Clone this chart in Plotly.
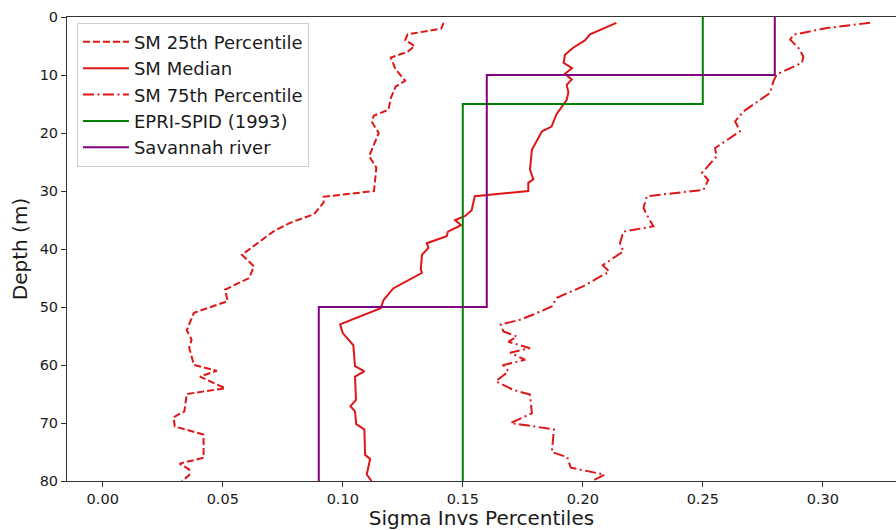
import plotly.graph_objects as go

# ---------------- data ----------------
p25_depth = [1, 2, 3, 4, 5, 6, 7, 9, 11, 12, 14, 16, 17, 18, 20, 22, 24, 26, 30, 31, 32, 34,
             35.5, 37, 41, 43, 45, 47, 49, 51, 54, 55.6, 57, 60, 61, 62, 64, 65, 68, 69,
             70.6, 72, 76, 77, 78, 79, 80]
p25_sigma = [0.142, 0.141, 0.127, 0.126, 0.130, 0.127, 0.120, 0.122, 0.126, 0.122, 0.120,
             0.119, 0.113, 0.112, 0.115, 0.113, 0.111, 0.114, 0.113, 0.092, 0.092, 0.088,
             0.078, 0.071, 0.058, 0.063, 0.061, 0.051, 0.052, 0.038, 0.035, 0.037, 0.036,
             0.038, 0.0475, 0.0405, 0.051, 0.035, 0.034, 0.0295, 0.030, 0.042, 0.042,
             0.032, 0.036, 0.036, 0.033]

med_depth = [1, 2, 3, 4, 5.3, 6.5, 7.9, 8.8, 9.8, 10.8, 11.7, 13, 14.3, 16.8, 18.9, 19.7,
             22.9, 26.3, 28, 28.6, 30, 30.9, 33.3, 34.3, 35, 35.9, 37, 37.8, 39, 39.8, 41,
             43.5, 44.1, 46.8, 48.8, 50.2, 53, 54.5, 56.6, 60.2, 61.1, 62, 66, 67.1, 68,
             70.2, 71.1, 75.5, 76.2, 78.9, 80]
med_sigma = [0.214, 0.2086, 0.203, 0.201, 0.196, 0.1926, 0.192, 0.1955, 0.1926, 0.1954,
             0.1933, 0.194, 0.1933, 0.189, 0.187, 0.183, 0.1788, 0.178, 0.1794, 0.1773,
             0.1773, 0.155, 0.1537, 0.151, 0.1468, 0.1493, 0.1438, 0.1433, 0.135, 0.1357,
             0.133, 0.1325, 0.133, 0.121, 0.117, 0.1158, 0.0989, 0.100, 0.1044, 0.1051,
             0.109, 0.1051, 0.1055, 0.1032, 0.1051, 0.1056, 0.109, 0.1093, 0.1114, 0.110,
             0.112]

p75_depth = [1, 1.9, 3.05, 3.9, 5.3, 6.8, 7.9, 9.9, 11.1, 13.1, 16.3, 18, 19.7, 22.6, 24,
             26.9, 28.1, 29.8, 30.9, 32.9, 34.1, 36.1, 37, 39, 40.4, 42.8, 43.9, 45.3,
             46.4, 48.4, 49.9, 51.3, 52.2, 53, 54.2, 55.1, 56, 57.1, 57.9, 59.1, 60,
             61.1, 62.8, 64.3, 65.1, 68.3, 70, 71.1, 75, 75.9, 77.7, 78.9, 80]
p75_sigma = [0.3197, 0.3017, 0.2878, 0.2864, 0.2898, 0.2919, 0.2913, 0.2808, 0.2794, 0.278,
             0.2669, 0.2635, 0.2655, 0.2551, 0.2558, 0.2496, 0.2523, 0.2503, 0.2267,
             0.2253, 0.2267, 0.2294, 0.2169, 0.2155, 0.2169, 0.2083, 0.2110, 0.2051,
             0.2003, 0.1892, 0.1871, 0.1794, 0.1739, 0.1658, 0.1669, 0.1725, 0.1690,
             0.1780, 0.1697, 0.1760, 0.1669, 0.1690, 0.1638, 0.1711, 0.1780, 0.1788,
             0.1700, 0.1880, 0.1871, 0.1935, 0.1950, 0.2090, 0.2040]

epri_values = [0.25, 0.15]
epri_breaks = [0, 15, 80]
sav_values = [0.28, 0.16, 0.09]
sav_breaks = [0, 10, 50, 80]

x_ticks = [0.00, 0.05, 0.10, 0.15, 0.20, 0.25, 0.30]
y_ticks = [0, 10, 20, 30, 40, 50, 60, 70, 80]


def step_profile(values, breaks):
    xs, ys = [], []
    for i, v in enumerate(values):
        xs += [v, v]
        ys += [breaks[i], breaks[i + 1]]
    return xs, ys


epri_x, epri_y = step_profile(epri_values, epri_breaks)
sav_x, sav_y = step_profile(sav_values, sav_breaks)

RED = "#e01515"
FONT = "DejaVu Sans"
TXT = "#1a1a1a"

fig = go.Figure()
fig.add_trace(go.Scatter(x=p25_sigma, y=p25_depth, mode="lines", name="SM 25th Percentile",
                         line=dict(color=RED, width=2, dash="7px,3px")))
fig.add_trace(go.Scatter(x=med_sigma, y=med_depth, mode="lines", name="SM Median",
                         line=dict(color=RED, width=2)))
fig.add_trace(go.Scatter(x=p75_sigma, y=p75_depth, mode="lines", name="SM 75th Percentile",
                         line=dict(color=RED, width=2, dash="11px,3.5px,2px,3.5px")))
fig.add_trace(go.Scatter(x=epri_x, y=epri_y, mode="lines", name="EPRI-SPID (1993)",
                         line=dict(color="green", width=2)))
fig.add_trace(go.Scatter(x=sav_x, y=sav_y, mode="lines", name="Savannah river",
                         line=dict(color="purple", width=2)))

fig.update_layout(
    width=896, height=530,
    margin=dict(l=67, r=0, t=17, b=49),
    paper_bgcolor="white", plot_bgcolor="white",
    font=dict(family=FONT, color=TXT),
    showlegend=True,
    legend=dict(x=0.012, y=0.988, xanchor="left", yanchor="top",
                bgcolor="rgba(255,255,255,0.85)", bordercolor="#cccccc", borderwidth=1,
                font=dict(size=18, family=FONT, color=TXT),
                itemwidth=46, tracegroupgap=0),
    xaxis=dict(range=[-0.0149, 0.3305], tickvals=x_ticks, tickformat=".2f",
               showgrid=False, zeroline=False, showline=True, linecolor="#333333",
               linewidth=1, mirror=True, ticks="outside", ticklen=5, tickcolor="#333333",
               tickfont=dict(size=14.5, family=FONT, color=TXT),
               title=dict(text="Sigma Invs Percentiles", standoff=10,
                          font=dict(size=20, family=FONT, color=TXT))),
    yaxis=dict(range=[80, 0], tickvals=y_ticks, showgrid=False, zeroline=False,
               showline=True, linecolor="#333333", linewidth=1, mirror=False,
               ticks="outside", ticklen=5, tickcolor="#333333",
               tickfont=dict(size=14.5, family=FONT, color=TXT),
               title=dict(text="Depth (m)", standoff=6,
                          font=dict(size=20, family=FONT, color=TXT))),
)

# remove the default 8px page margin so the 896x530 figure fills the window exactly
fig.write_html("out.html",
               config={"displayModeBar": False},
               post_script="document.body.style.margin='0';document.body.style.overflow='hidden';")
